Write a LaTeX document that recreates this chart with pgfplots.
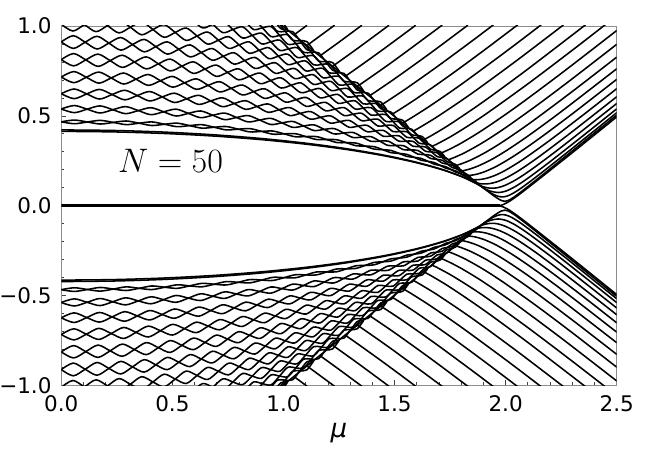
\RequirePackage{fix-cm}
\documentclass[border=0pt]{standalone}
\usepackage[no-math]{fontspec}
\setmainfont{DejaVu Sans}
\usepackage{pgfplots}
\usepackage{pgfplotstable}
\pgfplotsset{compat=1.18}
\pgfplotsset{curve/.style={black,line width=1.55pt,smooth,mark=none}}

% ---- braided rows (columns: mu, curve a, curve b) ----
\pgfplotstableread[row sep=\\]{mu a b\\
0 0.4218 0.4138\\ 0.2355 0.4187 0.4108\\ 0.4674 0.4095 0.4019\\ 0.6923 0.3942 0.3873\\ 0.9066 0.3733 0.3671\\ 1.1072 0.3471 0.3417\\ 1.2910 0.3160 0.3117\\ 1.4553 0.2808 0.2774\\ 1.5975 0.2423 0.2398\\ 1.7154 0.2015 0.1999\\ 1.8074 0.1601 0.1592\\ 1.8720 0.1212 0.1209\\ 1.8937 0.1046 0.1044\\ 1.9082 0.0917 0.0917\\
}\rXLIX

\pgfplotstableread[row sep=\\]{mu a b\\
0.0000 0.4669 0.4669\\ 0.0587 0.4767 0.4563\\ 0.1173 0.4660 0.4660\\ 0.1758 0.4546 0.4749\\ 0.2342 0.4635 0.4635\\ 0.2923 0.4715 0.4513\\ 0.3501 0.4593 0.4593\\ 0.4076 0.4463 0.4663\\ 0.4648 0.4534 0.4534\\ 0.5215 0.4594 0.4398\\ 0.5776 0.4458 0.4458\\ 0.6333 0.4317 0.4509\\ 0.6883 0.4367 0.4367\\ 0.7427 0.4407 0.4220\\ 0.7964 0.4260 0.4260\\ 0.8493 0.4107 0.4289\\ 0.9015 0.4137 0.4137\\ 0.9527 0.4156 0.3981\\ 1.0031 0.4000 0.4000\\ 1.0525 0.3840 0.4009\\ 1.1009 0.3849 0.3849\\ 1.1483 0.3847 0.3686\\ 1.1946 0.3684 0.3684\\ 1.2397 0.3519 0.3672\\ 1.2837 0.3507 0.3507\\ 1.3264 0.3485 0.3341\\ 1.3679 0.3319 0.3319\\ 1.4081 0.3152 0.3286\\ 1.4470 0.3119 0.3119\\ 1.4845 0.3077 0.2953\\ 1.5206 0.2911 0.2911\\ 1.5552 0.2746 0.2859\\ 1.5884 0.2694 0.2694\\ 1.6200 0.2633 0.2531\\ 1.6502 0.2471 0.2471\\ 1.6787 0.2312 0.2402\\ 1.7057 0.2243 0.2243\\ 1.7310 0.2167 0.2089\\ 1.7547 0.2013 0.2013\\ 1.7768 0.1866 0.1931\\ 1.7971 0.1784 0.1784\\ 1.8158 0.1699 0.1647\\ 1.8327 0.1562 0.1562\\ 1.8479 0.1438 0.1477\\ 1.8613 0.1353 0.1353\\ 1.8730 0.1273 0.1248\\ 1.8829 0.1168 0.1168\\
}\rXLVII

\pgfplotstableread[row sep=\\]{mu a b\\
0.0000 0.5382 0.5382\\ 0.0581 0.5576 0.5179\\ 0.1162 0.5372 0.5372\\ 0.1741 0.5160 0.5555\\ 0.2319 0.5343 0.5343\\ 0.2895 0.5515 0.5122\\ 0.3468 0.5294 0.5294\\ 0.4038 0.5066 0.5454\\ 0.4603 0.5226 0.5226\\ 0.5165 0.5373 0.4992\\ 0.5721 0.5139 0.5139\\ 0.6273 0.4899 0.5273\\ 0.6818 0.5034 0.5034\\ 0.7356 0.5154 0.4790\\ 0.7888 0.4910 0.4910\\ 0.8412 0.4663 0.5016\\ 0.8929 0.4769 0.4769\\ 0.9437 0.4861 0.4519\\ 0.9935 0.4611 0.4611\\ 1.0425 0.4360 0.4688\\ 1.0904 0.4437 0.4437\\ 1.1374 0.4498 0.4185\\ 1.1832 0.4247 0.4247\\ 1.2279 0.3996 0.4294\\ 1.2715 0.4043 0.4043\\ 1.3138 0.4074 0.3794\\ 1.3549 0.3825 0.3825\\ 1.3947 0.3580 0.3841\\ 1.4332 0.3596 0.3596\\ 1.4704 0.3596 0.3355\\ 1.5061 0.3355 0.3355\\ 1.5404 0.3120 0.3341\\ 1.5733 0.3105 0.3105\\ 1.6046 0.3076 0.2877\\ 1.6345 0.2848 0.2848\\ 1.6627 0.2629 0.2805\\ 1.6894 0.2585 0.2585\\ 1.7146 0.2529 0.2377\\ 1.7380 0.2320 0.2320\\ 1.7599 0.2125 0.2252\\ 1.7800 0.2057 0.2057\\ 1.7985 0.1979 0.1878\\ 1.8153 0.1800 0.1800\\ 1.8303 0.1642 0.1718\\ 1.8436 0.1559 0.1559\\
}\rXLV

\pgfplotstableread[row sep=\\]{mu a b\\
0.0000 0.6233 0.6233\\ 0.0573 0.6496 0.5958\\ 0.1146 0.6221 0.6221\\ 0.1718 0.5936 0.6473\\ 0.2288 0.6187 0.6187\\ 0.2856 0.6425 0.5893\\ 0.3421 0.6131 0.6131\\ 0.3983 0.5828 0.6354\\ 0.4542 0.6052 0.6052\\ 0.5096 0.6261 0.5743\\ 0.5645 0.5951 0.5951\\ 0.6188 0.5637 0.6144\\ 0.6726 0.5829 0.5829\\ 0.7258 0.6005 0.5510\\ 0.7782 0.5686 0.5686\\ 0.8300 0.5364 0.5844\\ 0.8809 0.5523 0.5523\\ 0.9310 0.5663 0.5199\\ 0.9802 0.5340 0.5340\\ 1.0285 0.5016 0.5461\\ 1.0758 0.5138 0.5138\\ 1.1221 0.5241 0.4815\\ 1.1673 0.4918 0.4918\\ 1.2115 0.4598 0.5002\\ 1.2544 0.4682 0.4682\\ 1.2962 0.4746 0.4366\\ 1.3368 0.4430 0.4430\\ 1.3760 0.4120 0.4474\\ 1.4140 0.4164 0.4164\\ 1.4507 0.4189 0.3861\\ 1.4859 0.3886 0.3886\\ 1.5198 0.3591 0.3891\\ 1.5522 0.3596 0.3596\\ 1.5831 0.3582 0.3312\\ 1.6125 0.3298 0.3298\\ 1.6405 0.3027 0.3265\\ 1.6668 0.2994 0.2994\\ 1.6916 0.2944 0.2737\\ 1.7147 0.2687 0.2687\\ 1.7363 0.2448 0.2621\\ 1.7562 0.2382 0.2382\\ 1.7744 0.2303 0.2164\\ 1.7909 0.2085 0.2085\\
}\rXLIII

\pgfplotstableread[row sep=\\]{mu a b\\
0.0000 0.7162 0.7162\\ 0.0563 0.7465 0.6845\\ 0.1126 0.7149 0.7149\\ 0.1688 0.6820 0.7438\\ 0.2248 0.7110 0.7110\\ 0.2807 0.7384 0.6771\\ 0.3362 0.7045 0.7045\\ 0.3914 0.6697 0.7302\\ 0.4463 0.6954 0.6954\\ 0.5007 0.7194 0.6598\\ 0.5547 0.6838 0.6838\\ 0.6081 0.6476 0.7060\\ 0.6609 0.6698 0.6698\\ 0.7132 0.6901 0.6331\\ 0.7647 0.6534 0.6534\\ 0.8155 0.6163 0.6716\\ 0.8656 0.6346 0.6346\\ 0.9148 0.6508 0.5974\\ 0.9632 0.6136 0.6136\\ 1.0106 0.5763 0.6276\\ 1.0571 0.5904 0.5904\\ 1.1026 0.6022 0.5533\\ 1.1470 0.5651 0.5651\\ 1.1904 0.5283 0.5748\\ 1.2326 0.5380 0.5380\\ 1.2737 0.5454 0.5016\\ 1.3135 0.5090 0.5090\\ 1.3521 0.4733 0.5142\\ 1.3895 0.4785 0.4785\\ 1.4254 0.4814 0.4436\\ 1.4601 0.4465 0.4465\\ 1.4934 0.4126 0.4471\\ 1.5252 0.4132 0.4132\\ 1.5556 0.4116 0.3806\\ 1.5845 0.3790 0.3790\\ 1.6119 0.3477 0.3752\\ 1.6378 0.3440 0.3440\\ 1.6622 0.3383 0.3145\\ 1.6849 0.3088 0.3088\\ 1.7061 0.2813 0.3012\\ 1.7256 0.2737 0.2737\\
}\rXLI

\pgfplotstableread[row sep=\\]{mu a b\\
0.0000 0.8131 0.8131\\ 0.0551 0.8467 0.7780\\ 0.1102 0.8116 0.8116\\ 0.1652 0.7752 0.8436\\ 0.2200 0.8072 0.8072\\ 0.2746 0.8374 0.7696\\ 0.3290 0.7998 0.7998\\ 0.3830 0.7612 0.8282\\ 0.4367 0.7895 0.7895\\ 0.4900 0.8159 0.7500\\ 0.5427 0.7764 0.7764\\ 0.5950 0.7361 0.8007\\ 0.6467 0.7605 0.7605\\ 0.6979 0.7826 0.7196\\ 0.7483 0.7418 0.7418\\ 0.7980 0.7006 0.7617\\ 0.8470 0.7205 0.7205\\ 0.8952 0.7380 0.6790\\ 0.9425 0.6966 0.6966\\ 0.9889 0.6551 0.7118\\ 1.0344 0.6703 0.6703\\ 1.0789 0.6830 0.6289\\ 1.1224 0.6416 0.6416\\ 1.1648 0.6005 0.6519\\ 1.2061 0.6108 0.6108\\ 1.2463 0.6186 0.5702\\ 1.2853 0.5779 0.5779\\ 1.3231 0.5380 0.5832\\ 1.3596 0.5432 0.5432\\ 1.3948 0.5459 0.5042\\ 1.4287 0.5069 0.5069\\ 1.4613 0.4689 0.5071\\ 1.4924 0.4691 0.4691\\ 1.5222 0.4669 0.4325\\ 1.5505 0.4302 0.4302\\ 1.5773 0.3952 0.4256\\ 1.6027 0.3906 0.3906\\ 1.6265 0.3837 0.3574\\ 1.6487 0.3505 0.3505\\
}\rXXXIX

\pgfplotstableread[row sep=\\]{mu a b\\
0.0000 0.9115 0.9115\\ 0.0537 0.9461 0.8752\\ 0.1074 0.9098 0.9098\\ 0.1609 0.8720 0.9427\\ 0.2143 0.9049 0.9049\\ 0.2676 0.9358 0.8657\\ 0.3205 0.8966 0.8966\\ 0.3732 0.8562 0.9255\\ 0.4254 0.8851 0.8851\\ 0.4773 0.9118 0.8436\\ 0.5288 0.8704 0.8704\\ 0.5797 0.8280 0.8948\\ 0.6301 0.8525 0.8525\\ 0.6799 0.8746 0.8095\\ 0.7290 0.8316 0.8316\\ 0.7775 0.7880 0.8512\\ 0.8252 0.8076 0.8076\\ 0.8721 0.8248 0.7637\\ 0.9182 0.7809 0.7809\\ 0.9635 0.7368 0.7955\\ 1.0078 0.7514 0.7514\\ 1.0512 0.7633 0.7073\\ 1.0935 0.7193 0.7193\\ 1.1348 0.6754 0.7286\\ 1.1751 0.6847 0.6847\\ 1.2142 0.6913 0.6413\\ 1.2522 0.6479 0.6479\\ 1.2890 0.6051 0.6518\\ 1.3246 0.6090 0.6090\\ 1.3589 0.6102 0.5670\\ 1.3919 0.5682 0.5682\\ 1.4237 0.5273 0.5668\\ 1.4540 0.5259 0.5259\\ 1.4830 0.5219 0.4863\\ 1.5106 0.4823 0.4823\\ 1.5367 0.4443 0.4758\\ 1.5614 0.4378 0.4378\\
}\rXXXVII

\pgfplotstableread[row sep=\\]{mu a b\\
0.0000 1.0097 1.0097\\ 0.0521 1.0454 0.9721\\ 0.1041 1.0078 1.0078\\ 0.1561 0.9686 1.0416\\ 0.2079 1.0023 1.0023\\ 0.2595 1.0340 0.9616\\ 0.3108 0.9932 0.9932\\ 0.3619 0.9510 1.0226\\ 0.4126 0.9804 0.9804\\ 0.4629 1.0075 0.9371\\ 0.5128 0.9641 0.9641\\ 0.5622 0.9198 0.9887\\ 0.6110 0.9443 0.9443\\ 0.6593 0.9664 0.8991\\ 0.7070 0.9211 0.9211\\ 0.7540 0.8753 0.9405\\ 0.8003 0.8947 0.8947\\ 0.8458 0.9114 0.8483\\ 0.8905 0.8650 0.8650\\ 0.9344 0.8184 0.8790\\ 0.9773 0.8323 0.8323\\ 1.0194 0.8434 0.7856\\ 1.0605 0.7967 0.7967\\ 1.1006 0.7502 0.8050\\ 1.1396 0.7585 0.7585\\ 1.1775 0.7639 0.7123\\ 1.2144 0.7177 0.7177\\ 1.2501 0.6720 0.7202\\ 1.2846 0.6746 0.6746\\ 1.3178 0.6743 0.6297\\ 1.3499 0.6295 0.6295\\ 1.3806 0.5856 0.6264\\ 1.4101 0.5826 0.5826\\ 1.4382 0.5768 0.5401\\ 1.4649 0.5343 0.5343\\
}\rXXXV

\pgfplotstableread[row sep=\\]{mu a b\\
0.4949 1.0565 1.0565\\ 0.5425 1.0119 1.0794\\ 0.5897 1.0348 1.0348\\ 0.6363 1.0551 0.9891\\ 0.6823 1.0094 1.0094\\ 0.7276 0.9629 1.0269\\ 0.7723 0.9804 0.9804\\ 0.8162 0.9950 0.9332\\ 0.8594 0.9479 0.9479\\ 0.9017 0.9003 0.9596\\ 0.9432 0.9121 0.9121\\ 0.9837 0.9209 0.8642\\ 1.0234 0.8731 0.8731\\ 1.0621 0.8252 0.8790\\ 1.0997 0.8311 0.8311\\ 1.1364 0.8341 0.7835\\ 1.1719 0.7864 0.7864\\ 1.2064 0.7392 0.7865\\ 1.2397 0.7392 0.7392\\ 1.2718 0.7363 0.6926\\ 1.3027 0.6898 0.6898\\ 1.3324 0.6441 0.6840\\ 1.3608 0.6384 0.6384\\
}\rXXXIII

\pgfplotstableread[row sep=\\]{mu a b\\
0.7414 1.0640 1.0640\\ 0.7835 1.0763 1.0164\\ 0.8250 1.0287 1.0287\\ 0.8656 0.9805 1.0381\\ 0.9054 0.9899 0.9899\\ 0.9444 0.9962 0.9412\\ 0.9825 0.9475 0.9475\\ 1.0196 0.8987 0.9509\\ 1.0557 0.9020 0.9020\\ 1.0909 0.9023 0.8532\\ 1.1250 0.8535 0.8535\\ 1.1581 0.8049 0.8508\\ 1.1901 0.8023 0.8023\\ 1.2209 0.7966 0.7542\\ 1.2506 0.7486 0.7486\\
}\rXXXI

\pgfplotstableread[row sep=\\]{mu a b\\
0.8642 1.0650 1.0650\\ 0.9014 1.0688 1.0158\\ 0.9378 1.0195 1.0195\\ 0.9732 0.9699 1.0202\\ 1.0077 0.9705 0.9705\\ 1.0413 0.9681 0.9208\\ 1.0739 0.9183 0.9183\\ 1.1054 0.8687 0.9129\\ 1.1359 0.8632 0.8632\\
}\rXXIX

\pgfplotstableread[row sep=\\]{mu a b\\
0.8895 1.0885 1.0885\\ 0.9232 1.0384 1.0864\\ 0.9559 1.0362 1.0362\\ 0.9877 1.0309 0.9858\\ 1.0186 0.9805 0.9805\\
}\rXXVII

% ---- straight-ish lines (columns: mu, E) ----
\pgfplotstableread[row sep=\\]{mu E\\ 0.99 1.0065\\ 1.2 0.7967\\ 1.5 0.4968\\ 1.7 0.2972\\ 1.8 0.1977\\ 1.9 0.0993\\ 1.95 0.0524\\ 1.98 0.0294\\ 1.996 0.0246\\ 2.01 0.0283\\ 2.04 0.0503\\ 2.1 0.1067\\ 2.2 0.2053\\ 2.35 0.3547\\ 2.5 0.5044\\}\dI
\pgfplotstableread[row sep=\\]{mu E\\ 1.9105 0.0891\\ 1.94 0.0665\\ 1.965 0.0530\\ 1.985 0.0492\\ 2.005 0.0531\\ 2.03 0.0668\\ 2.07 0.0983\\ 2.15 0.1723\\ 2.3 0.3190\\ 2.5 0.5175\\}\dII
\pgfplotstableread[row sep=\\]{mu E\\ 1.9016 0.0977\\ 1.93 0.0818\\ 1.966 0.0735\\ 2.0 0.0810\\ 2.04 0.1043\\ 2.1 0.1529\\ 2.2 0.2453\\ 2.35 0.3910\\ 2.5 0.5391\\}\dIII
\pgfplotstableread[row sep=\\]{mu E\\ 1.8891 0.1099\\ 1.915 0.1006\\ 1.9396 0.0976\\ 1.965 0.1008\\ 2.0 0.1148\\ 2.05 0.1473\\ 2.12 0.2051\\ 2.25 0.3254\\ 2.5 0.5688\\}\dIV
\pgfplotstableread[row sep=\\]{mu E\\ 1.8729 0.1257\\ 1.89 0.1223\\ 1.9059 0.1213\\ 1.93 0.1236\\ 1.96 0.1328\\ 2.0 0.1535\\ 2.06 0.1961\\ 2.15 0.2726\\ 2.3 0.4124\\ 2.5 0.6064\\}\dV
\pgfplotstableread[row sep=\\]{mu E\\ 1.8533 0.1450\\ 1.865 0.1445\\ 1.88 0.1453\\ 1.91 0.1514\\ 1.95 0.1677\\ 2.0 0.1978\\ 2.08 0.2591\\ 2.2 0.3649\\ 2.35 0.5061\\ 2.5 0.6513\\}\dVI
\pgfplotstableread[row sep=\\]{mu E\\ 1.8302 0.1677\\ 1.86 0.1727\\ 1.9 0.1867\\ 1.96 0.2201\\ 2.04 0.2788\\ 2.15 0.3727\\ 2.3 0.5112\\ 2.5 0.7032\\}\dVII
\pgfplotstableread[row sep=\\]{mu E\\ 1.8039 0.1938\\ 1.83 0.2011\\ 1.87 0.2179\\ 1.93 0.2530\\ 2.0 0.3041\\ 2.1 0.3874\\ 2.25 0.5234\\ 2.5 0.7619\\}\dVIII
\pgfplotstableread[row sep=\\]{mu E\\ 1.7744 0.2232\\ 1.80 0.2329\\ 1.85 0.2583\\ 1.92 0.3042\\ 2.0 0.3662\\ 2.12 0.4694\\ 2.3 0.6355\\ 2.5 0.8268\\}\dIX
\pgfplotstableread[row sep=\\]{mu E\\ 1.7417 0.2557\\ 1.77 0.2690\\ 1.82 0.2977\\ 1.9 0.3536\\ 2.0 0.4342\\ 2.15 0.5669\\ 2.3 0.7065\\ 2.5 0.8979\\}\dX
\pgfplotstableread[row sep=\\]{mu E\\ 1.7061 0.2912\\ 1.74 0.3098\\ 1.8 0.3484\\ 1.9 0.4240\\ 2.05 0.5521\\ 2.25 0.7359\\ 2.5 0.9747\\}\dXI
\pgfplotstableread[row sep=\\]{mu E\\ 1.6676 0.3295\\ 1.70 0.3491\\ 1.77 0.3973\\ 1.9 0.5007\\ 2.1 0.6779\\ 2.3 0.8650\\ 2.45 1.0087\\}\dXII
\pgfplotstableread[row sep=\\]{mu E\\ 1.6305 0.3665\\ 1.67 0.3933\\ 1.75 0.4533\\ 1.9 0.5791\\ 2.1 0.7605\\ 2.36 1.0070\\}\dXIII
\pgfplotstableread[row sep=\\]{mu E\\ 1.5828 0.4142\\ 1.62 0.4403\\ 1.70 0.5013\\ 1.85 0.6272\\ 2.05 0.8080\\ 2.26 1.0057\\}\dXIV
\pgfplotstableread[row sep=\\]{mu E\\ 1.5367 0.4602\\ 1.58 0.4923\\ 1.66 0.5556\\ 1.8 0.6750\\ 2.0 0.8564\\ 2.16 1.0067\\}\dXV
\pgfplotstableread[row sep=\\]{mu E\\ 1.4885 0.5084\\ 1.53 0.5404\\ 1.61 0.6054\\ 1.75 0.7263\\ 1.9 0.8623\\ 2.055 1.0071\\}\dXVI
\pgfplotstableread[row sep=\\]{mu E\\ 1.4382 0.5586\\ 1.48 0.5920\\ 1.56 0.6585\\ 1.7 0.7810\\ 1.85 0.9179\\ 1.945 1.0065\\}\dXVII
\pgfplotstableread[row sep=\\]{mu E\\ 1.3861 0.6106\\ 1.43 0.6467\\ 1.52 0.7234\\ 1.67 0.8569\\ 1.83 1.0045\\}\dXVIII
\pgfplotstableread[row sep=\\]{mu E\\ 1.3324 0.6643\\ 1.38 0.7044\\ 1.5 0.8091\\ 1.715 1.0053\\}\dXIX
\pgfplotstableread[row sep=\\]{mu E\\ 1.2772 0.7194\\ 1.33 0.7648\\ 1.45 0.8712\\ 1.595 1.0039\\}\dXX
\pgfplotstableread[row sep=\\]{mu E\\ 1.2209 0.7757\\ 1.33 0.8721\\ 1.475 1.0043\\}\dXXI
\pgfplotstableread[row sep=\\]{mu E\\ 1.1636 0.8331\\ 1.25 0.9103\\ 1.353 1.0043\\}\dXXII
\pgfplotstableread[row sep=\\]{mu E\\ 1.1054 0.8911\\ 1.165 0.9452\\ 1.23 1.0043\\}\dXXIII
\pgfplotstableread[row sep=\\]{mu E\\ 1.0468 0.9498\\ 1.106 1.0039\\}\dXXIV
% zero mode and its split branch
\pgfplotstableread[row sep=\\]{mu E\\ 1.9 0\\ 1.96 0\\ 1.975 0.001\\ 1.99 0.007\\ 2.005 0.016\\ 2.03 0.035\\ 2.07 0.071\\ 2.15 0.148\\ 2.3 0.295\\ 2.5 0.494\\}\maj

\newcommand{\rowplot}[1]{%
  \addplot[curve] table[x=mu,y=a]{#1};
  \addplot[curve] table[x=mu,y=b]{#1};
  \addplot[curve] table[x=mu,y expr=-\thisrow{a}]{#1};
  \addplot[curve] table[x=mu,y expr=-\thisrow{b}]{#1};}
\newcommand{\lineplot}[1]{%
  \addplot[curve] table[x=mu,y=E]{#1};
  \addplot[curve] table[x=mu,y expr=-\thisrow{E}]{#1};}

\begin{document}
\begin{tikzpicture}
\begin{axis}[
  width=555.4pt, height=359.5pt, scale only axis,
  xmin=0, xmax=2.5, ymin=-1, ymax=1,
  axis line style={draw=black!45, line width=0.9pt},
  tick pos=left, tick align=inside,
  major tick length=5pt, minor tick length=3pt,
  minor tick num=4,
  tick style={black!75, line width=0.7pt},
  xtick={0,0.5,1,1.5,2,2.5},
  xticklabels={0.0,0.5,1.0,1.5,2.0,2.5},
  ytick={-1,-0.5,0,0.5,1},
  yticklabels={−1.0,−0.5,0.0,0.5,1.0},
  tick label style={font=\fontsize{21.5}{25}\selectfont, inner sep=0.5pt},
  yticklabel style={xshift=-9.1pt},
  xticklabel style={yshift=-9.5pt},
]
\rowplot{\rXLIX}
\rowplot{\rXLVII}
\rowplot{\rXLV}
\rowplot{\rXLIII}
\rowplot{\rXLI}
\rowplot{\rXXXIX}
\rowplot{\rXXXVII}
\rowplot{\rXXXV}
\rowplot{\rXXXIII}
\rowplot{\rXXXI}
\rowplot{\rXXIX}
\rowplot{\rXXVII}
\lineplot{\dI}\lineplot{\dII}\lineplot{\dIII}\lineplot{\dIV}\lineplot{\dV}
\lineplot{\dVI}\lineplot{\dVII}\lineplot{\dVIII}\lineplot{\dIX}\lineplot{\dX}
\lineplot{\dXI}\lineplot{\dXII}\lineplot{\dXIII}\lineplot{\dXIV}\lineplot{\dXV}
\lineplot{\dXVI}\lineplot{\dXVII}\lineplot{\dXVIII}\lineplot{\dXIX}\lineplot{\dXX}
\lineplot{\dXXI}\lineplot{\dXXII}\lineplot{\dXXIII}\lineplot{\dXXIV}
\lineplot{\maj}
\addplot[black, line width=2.5pt, mark=none] coordinates {(0,0) (1.975,0)};
\coordinate (sw) at (rel axis cs:0,0);
\coordinate (ne) at (rel axis cs:1,1);
\end{axis}
\node[anchor=base west, inner sep=0pt, font=\fontsize{34}{40}\selectfont] at ([shift={(56.7pt,212.5pt)}]sw) {$N=50$};
\node[anchor=base, inner sep=0pt, font=\fontsize{26}{30}\selectfont\itshape] at ([shift={(277.7pt,-51.5pt)}]sw) {μ};
\pgfresetboundingbox
\path[use as bounding box] ([shift={(-61.3pt,-74.5pt)}]sw) rectangle ([shift={(30.3pt,26pt)}]ne);
\end{tikzpicture}
\end{document}
